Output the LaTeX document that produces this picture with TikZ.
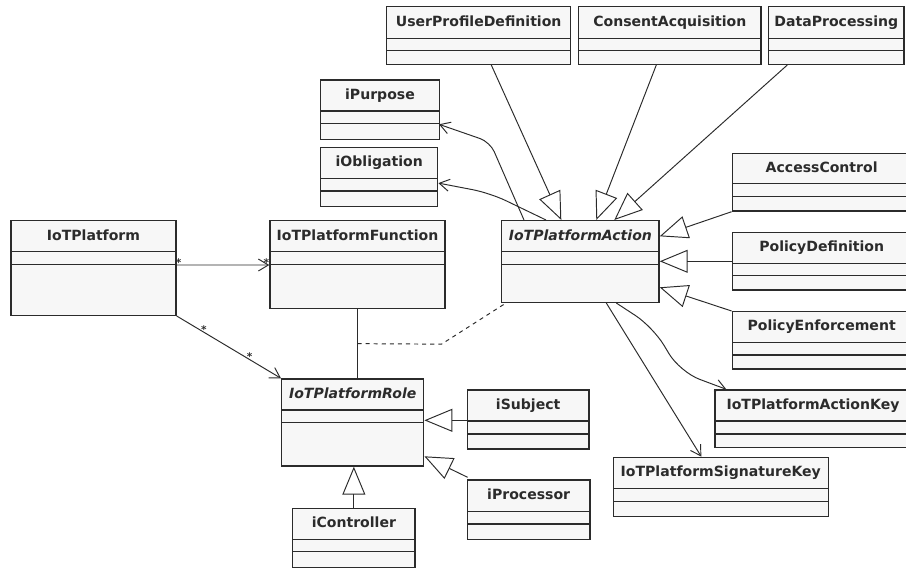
\documentclass[tikz,border=0pt]{standalone}
\usepackage{fontspec}
\setmainfont{DejaVu Sans}
\usetikzlibrary{arrows.meta,calc,fit}

\definecolor{boxfill}{HTML}{F7F7F7}
\definecolor{ink}{HTML}{2B2B2B}

\tikzset{
  umlframe/.style={draw=ink, line width=0.8pt, fill=boxfill, inner sep=0pt},
  umlrule/.style={draw=ink, line width=0.8pt},
  umltitle/.style={font=\fontsize{8}{9.6}\selectfont\bfseries, text=ink,
    inner sep=0pt, text height=6pt, text depth=1.6pt},
  abstracttitle/.style={umltitle, font=\fontsize{8}{9.6}\selectfont\bfseries\itshape},
  link/.style={draw=ink, line width=0.55pt},
  assoc/.style={link, -{Straight Barb[length=0.2cm, width=0.24cm]}},
  inherit/.style={link, -{Triangle[open, length=0.56cm, width=0.46cm]}},
  depend/.style={link, dash pattern=on 2.3pt off 2.3pt},
  mult/.style={font=\fontsize{6}{6}\selectfont\bfseries, text=ink, inner sep=0pt},
}

% class box: [title style]{name}{left}{top}{right}{bottom}{header rule}{second rule}{title}
\newcommand{\umlclass}[9][umltitle]{%
  \coordinate (#2-nw) at (#3,#4);
  \coordinate (#2-se) at (#5,#6);
  \node[umlframe, fit=(#2-nw)(#2-se)] (#2) {};
  \draw[umlrule] (#3,#7) -- (#5,#7) (#3,#8) -- (#5,#8);
  \node[#1] (#2-title) at ({(#3+#5)/2},{(#4+#7)/2}) {#9};
}

\begin{document}
\begin{tikzpicture}[x=0.02cm, y=-0.02cm]
  \useasboundingbox (0,0) rectangle (906,569);
  \clip (0,0) rectangle (906,569);

  % classes
  \umlclass{platform}{11}{220.7}{176}{315.3}{251.7}{264.3}{IoTPlatform}
  \umlclass{function}{270}{220.7}{445}{308.3}{251.7}{264.3}{IoTPlatformFunction}
  \umlclass[abstracttitle]{role}{281.7}{379}{423.7}{466}{410}{422.3}{IoTPlatformRole}
  \umlclass{subject}{467.3}{390}{589}{449}{421}{434}{iSubject}
  \umlclass{processor}{467.3}{480}{590}{539.3}{511.7}{524}{iProcessor}
  \umlclass{controller}{292.7}{508.3}{415}{567.3}{539.3}{551.7}{iController}
  \umlclass{purpose}{320.7}{80}{439.3}{139.3}{111}{123.3}{iPurpose}
  \umlclass{obligation}{320.7}{147.3}{437.7}{206.7}{178.3}{191}{iObligation}
  \umlclass{userprofile}{386.7}{6.7}{570.7}{64.3}{38.3}{50.7}{UserProfileDefinition}
  \umlclass{consent}{578.7}{6.7}{761}{64.3}{38.3}{50.7}{ConsentAcquisition}
  \umlclass{dataproc}{768.7}{6.7}{904}{64.3}{38.3}{50.7}{DataProcessing}
  \umlclass[abstracttitle]{action}{501.7}{220.7}{659}{302.3}{251.7}{264.3}{IoTPlatformAction}
  \umlclass{access}{732.3}{153.3}{911}{211}{183.3}{196.7}{AccessControl}
  \umlclass{policydef}{732.3}{232.3}{911}{290}{263.3}{275.7}{PolicyDefinition}
  \umlclass{policyenf}{732.3}{311.7}{911}{369}{342.3}{355}{PolicyEnforcement}
  \umlclass{actionkey}{715}{390}{911}{447.3}{421}{434}{IoTPlatformActionKey}
  \umlclass{sigkey}{613.3}{457.3}{828.3}{516.7}{488.3}{501.7}{IoTPlatformSignatureKey}

  % associations
  \draw[assoc] ($(platform.north east)+(0,45)$) -- ($(function.north west)+(0,45)$);
  \node[mult] (m1) at ($(platform.north east)+(2,43)$) {*};
  \node[mult] (m2) at ($(function.north west)+(-3,43)$) {*};

  \draw[assoc] (platform.south east) -- (role.north west)
    node[mult, pos=0.26, above=-1pt] (m3) {*}
    node[mult, pos=0.7, above=-1pt] (m4) {*};

  \draw[link] (function.south) -- (function.south |- role.north);
  \coordinate (fjoin) at ($(function.south)!0.5!(function.south |- role.north)$);
  \draw[depend] (fjoin) -- ++(84,0.5) -- ($(action.south west)+(5,0)$);

  \draw[assoc, rounded corners=6pt] ($(action.north west)+(23,0)$) -- (490,142)
    -- ($(purpose.north east)+(-1,45)$);
  \draw[assoc, rounded corners=10pt] ($(action.north west)+(45,0)$) -- (490,193)
    -- ($(obligation.north east)+(0,36.5)$);

  \draw[assoc, rounded corners=12pt] ($(action.south west)+(115.3,0)$) -- (653,327)
    -- (680,372) -- ($(actionkey.north west)+(12,0)$);
  \draw[assoc] ($(action.south west)+(105.3,0)$) -- ($(sigkey.north west)+(88.7,0)$);

  % generalizations towards IoTPlatformAction
  \draw[inherit] ($(userprofile.south west)+(105.3,0)$) -- ($(action.north west)+(60.3,0)$);
  \draw[inherit] ($(consent.south west)+(78.3,0)$) -- ($(action.north west)+(95.3,0)$);
  \draw[inherit] ($(dataproc.south west)+(19.3,0)$) -- ($(action.north west)+(113.3,0)$);
  \draw[inherit] (access.south west) -- ($(action.north east)+(0,16.3)$);
  \draw[inherit] ($(policydef.north west)+(0,29.7)$) -- ($(action.north east)+(0,41.3)$);
  \draw[inherit] (policyenf.north west) -- ($(action.north east)+(0,67.3)$);

  % generalizations towards IoTPlatformRole
  \draw[inherit] ($(subject.north west)+(0,31)$) -- ($(role.north east)+(0,42)$);
  \draw[inherit] ($(processor.north west)+(1,-2)$) -- ($(role.north east)+(0,78)$);
  \draw[inherit] (controller.north) -- (controller.north |- role.south);
\end{tikzpicture}
\end{document}
